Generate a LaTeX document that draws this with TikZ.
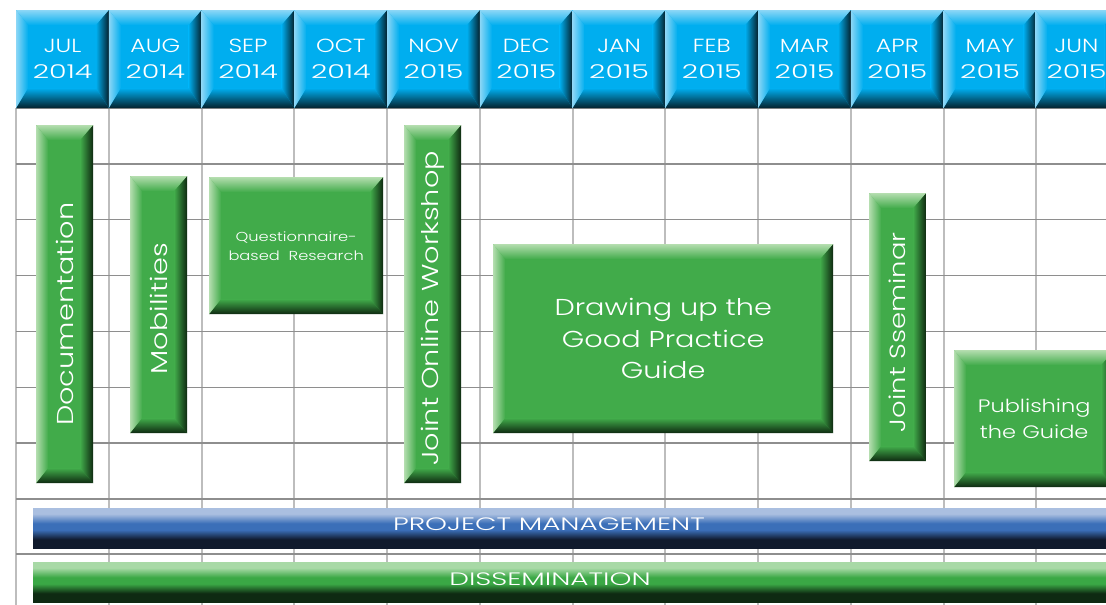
\documentclass[tikz,border=0pt]{standalone}
\usepackage{fontspec}
\setmainfont{Poppins Light}[FakeStretch=1.25]
\newfontfamily\widefont{Poppins Light}[FakeStretch=1.55]
\newfontfamily\yrfont{Poppins Light}[FakeStretch=1.5]
\definecolor{cy}{HTML}{00AEEF}
\definecolor{cyl}{HTML}{8AD6F6}
\definecolor{cyd}{HTML}{04202B}
\definecolor{gr}{HTML}{41AB4A}
\definecolor{grl}{HTML}{B3DDAE}
\definecolor{grd}{HTML}{0E2810}
\definecolor{bl}{HTML}{3B6FB8}
\definecolor{bll}{HTML}{AABFE0}
\definecolor{bld}{HTML}{101A2C}
\definecolor{g2}{HTML}{3AA845}
\definecolor{g2l}{HTML}{A8D9A6}
\definecolor{g2d}{HTML}{0E2A12}
\definecolor{vgrid}{HTML}{BDBDBD}
\definecolor{hgrid}{HTML}{8E8E8E}
\pgfdeclareverticalshading{blueshade}{100bp}{color(0bp)=(bld); color(36bp)=(bld); color(48bp)=(bl); color(56bp)=(bl); color(68bp)=(bll); color(100bp)=(bll)}
\pgfdeclareverticalshading{greenshade}{100bp}{color(0bp)=(g2d); color(36bp)=(g2d); color(48bp)=(g2); color(56bp)=(g2); color(68bp)=(g2l); color(100bp)=(g2l)}
\newcommand\bevelpic[7]{%
  \coordinate (bsw) at (path picture bounding box.south west);
  \coordinate (bne) at (path picture bounding box.north east);
  \coordinate (bnw) at (bsw |- bne);
  \coordinate (bse) at (bne |- bsw);
  \coordinate (isw) at ([shift={(#4,#7)}]bsw);
  \coordinate (ine) at ([shift={(-#6,-#5)}]bne);
  \coordinate (inw) at (isw |- ine);
  \coordinate (ise) at (ine |- isw);
  \shade[top color=#2, bottom color=#1] (bnw) -- (bne) -- (ine) -- (inw) -- cycle;
  \shade[left color=#2, right color=#1] (bsw) -- (bnw) -- (inw) -- (isw) -- cycle;
  \shade[left color=#1, right color=#3] (bne) -- (bse) -- (ise) -- (ine) -- cycle;
  \shade[top color=#1, bottom color=#3] (bsw) -- (bse) -- (ise) -- (isw) -- cycle;
}
\tikzset{
  hcell/.style={anchor=north west, inner sep=0pt, minimum width=92.75pt,
    minimum height=98pt, fill=cy, text=white, align=center,
    font=\fontsize{19}{26}\selectfont,
    path picture={\bevelpic{cy}{cyl}{cyd}{12pt}{15pt}{13pt}{20pt}}},
  gbox/.style={anchor=north west, inner sep=0pt, fill=gr, text=white,
    align=center, font=\fontsize{23}{30}\selectfont,
    path picture={\bevelpic{gr}{grl}{grd}{12pt}{15pt}{13pt}{15pt}}},
  longbar/.style={anchor=north west, inner sep=0pt, minimum height=40pt},
  bartext/.style={text=white, inner sep=0pt, font=\widefont\fontsize{18}{22}\selectfont},
  vline/.style={draw=vgrid, line width=2pt},
  hline/.style={draw=hgrid, line width=1.5pt}
}
\begin{document}
\begin{tikzpicture}[x=1pt,y=-1pt]
\useasboundingbox (0,0) rectangle (1106,605);
\clip (0,0) rectangle (1106,605);
\fill[white] (0,0) rectangle (1106,605);
% grid
\foreach \i in {0,...,11} \draw[vline] ({16+92.75*\i},108) -- ({16+92.75*\i},605);
\foreach \j in {0,...,7} \draw[hline] (16,{108+55.86*\j}) -- (1106,{108+55.86*\j});
\draw[hline] (16,554) -- (1106,554);
% header
\foreach \mo/\yr [count=\i from 0] in {JUL/2014, AUG/2014, SEP/2014, OCT/2014, NOV/2015, DEC/2015, JAN/2015, FEB/2015, MAR/2015, APR/2015, MAY/2015}
  \node[hcell] (m\i) at ({16+92.75*\i},10) {\mo\\{\yrfont\yr}};
\node[hcell, minimum width=82pt] (m11) at (1035.25,10) {JUN\\{\yrfont 2015}};
% activities
\node[gbox, minimum width=57pt, minimum height=358pt] (doc) at (36,125) {\rotatebox{90}{\hspace*{-20pt}Documentation}};
\node[gbox, minimum width=57pt, minimum height=257pt] (mob) at (130,176) {\rotatebox{90}{\hspace*{-8pt}Mobilities}};
\node[gbox, minimum width=174pt, minimum height=137pt, font=\fontsize{13}{19}\selectfont] (que) at (209,177) {Questionnaire-\\based\ \ Research};
\node[gbox, minimum width=57pt, minimum height=358pt, font=\fontsize{23}{30}\selectfont] (jow) at (404,125) {\rotatebox{90}{\hspace*{-8pt}Joint Online Workshop}};
\node[gbox, minimum width=340pt, minimum height=189pt, font=\fontsize{23}{31.5}\selectfont] (gpg) at (493,244) {Drawing up the\\Good Practice\\Guide};
\node[gbox, minimum width=57pt, minimum height=268pt, font=\fontsize{22}{30}\selectfont] (jss) at (869,193) {\rotatebox{90}{\hspace*{-10pt}Joint Sseminar}};
\node[gbox, minimum width=160pt, minimum height=137pt, font=\fontsize{18}{26}\selectfont] (pub) at (954,350) {Publishing\\the Guide};
% long bars
\node[longbar, minimum width=1073pt, shading=blueshade] (pm) at (33,508) {};
\node[bartext] (pmt) at (549,524) {PROJECT MANAGEMENT};
\node[longbar, minimum width=1073pt, shading=greenshade] (dis) at (33,562) {};
\node[bartext] (dist) at (550,579) {DISSEMINATION};
\end{tikzpicture}
\end{document}
